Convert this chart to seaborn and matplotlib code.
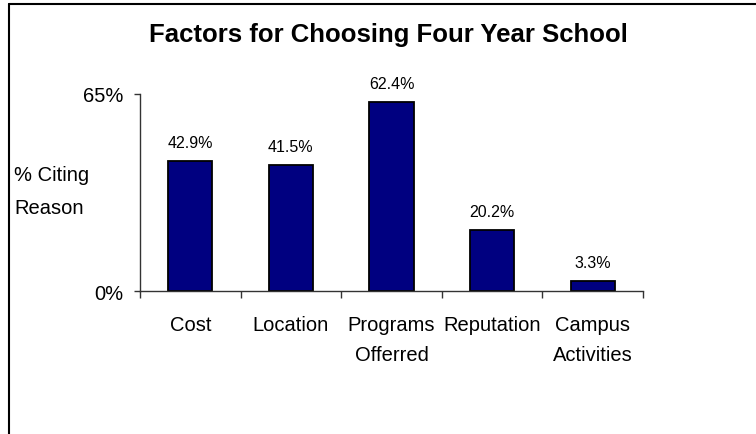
import matplotlib
matplotlib.use("Agg")
import matplotlib.pyplot as plt
from matplotlib.lines import Line2D
import seaborn as sns
import pandas as pd

# Survey results
factors = ["Cost", "Location", "Programs\nOfferred", "Reputation", "Campus\nActivities"]
pct_citing = [42.9, 41.5, 62.4, 20.2, 3.3]
value_labels = ["42.9%", "41.5%", "62.4%", "20.2%", "3.3%"]
ytick_values = [0, 65]
ytick_labels = ["0%", "65%"]

sns.set_theme(style="white")
plt.rcParams["font.family"] = ["Liberation Sans", "DejaVu Sans"]
plt.rcParams["text.color"] = "black"
plt.rcParams["xtick.labelcolor"] = "black"
plt.rcParams["ytick.labelcolor"] = "black"

df = pd.DataFrame({"factor": factors, "pct": pct_citing})

fig = plt.figure(figsize=(7.56, 4.35), dpi=100)
ax = fig.add_axes([140 / 756, 1 - 292 / 435, (643 - 140) / 756, (292 - 95) / 435])

sns.barplot(data=df, x="factor", y="pct", color="#000080", width=0.44,
            edgecolor="black", linewidth=1.3, saturation=1, ax=ax)

ax.set_xlim(-0.5, len(factors) - 0.5)
ax.set_ylim(0, 65)
ax.set_xlabel("")
ax.set_ylabel("")

ax.set_yticks(ytick_values)
ax.set_yticklabels(ytick_labels, fontsize=14.5)
ax.tick_params(axis="y", direction="out", length=4, width=1, color="#333333",
               pad=8, left=True, labelcolor="black")

# Category labels without ticks; ticks at the category boundaries
ax.set_xticks(range(len(factors)))
ax.set_xticklabels(factors, fontsize=14.5, linespacing=1.75, va="top")
ax.tick_params(axis="x", which="major", length=0, pad=17, labelcolor="black")
ax.set_xticks([i - 0.5 for i in range(len(factors) + 1)], minor=True)
ax.tick_params(axis="x", which="minor", direction="out", length=5, width=1,
               color="#333333", bottom=True)

for side in ["top", "right"]:
    ax.spines[side].set_visible(False)
for side in ["left", "bottom"]:
    ax.spines[side].set_color("#333333")
    ax.spines[side].set_linewidth(1)

for i, (v, lab) in enumerate(zip(pct_citing, value_labels)):
    ax.annotate(lab, (i, v), xytext=(0, 8), textcoords="offset points",
                ha="center", va="bottom", fontsize=11.5, color="black")

fig.text(388 / 756, 1 - 35 / 435, "Factors for Choosing Four Year School",
         ha="center", va="center", fontsize=18.5, fontweight="bold", color="black")
fig.text(14 / 756, 1 - 192 / 435, "% Citing\nReason", ha="left", va="center",
         fontsize=14.5, linespacing=1.9, color="black")

# Outline along the top and left edges
fig.add_artist(Line2D([8.5 / 756, 8.5 / 756], [0, 1 - 4.5 / 435],
                      transform=fig.transFigure, color="black", lw=1.5))
fig.add_artist(Line2D([8.5 / 756, 1], [1 - 4.5 / 435, 1 - 4.5 / 435],
                      transform=fig.transFigure, color="black", lw=1.5))

fig.savefig("out.png", dpi=100, facecolor="white")
